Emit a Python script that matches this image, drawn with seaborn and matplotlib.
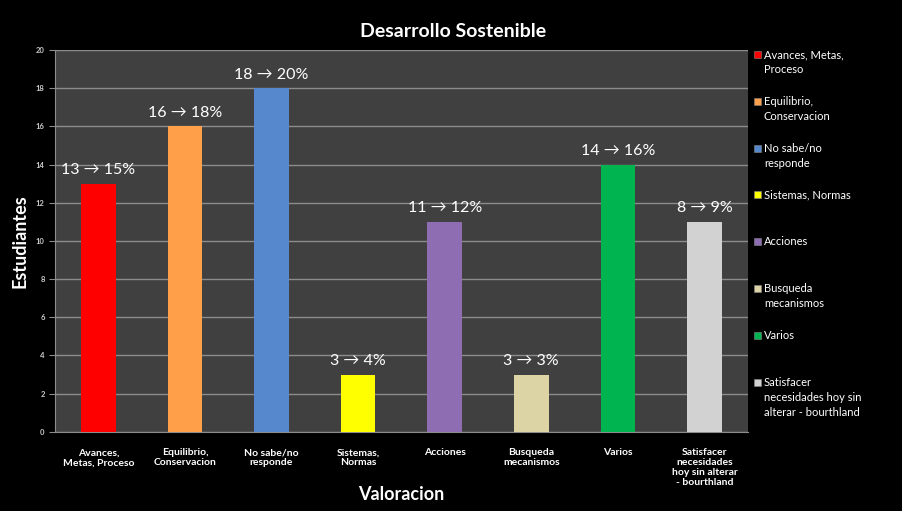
import matplotlib.pyplot as plt
import matplotlib.patches as mpatches
import pandas as pd
import seaborn as sns

# Data
categorias = [
    "Avances,\nMetas, Proceso",
    "Equilibrio,\nConservacion",
    "No sabe/no\nresponde",
    "Sistemas,\nNormas",
    "Acciones",
    "Busqueda\nmecanismos",
    "Varios",
    "Satisfacer\nnecesidades\nhoy sin alterar\n- bourthland",
]
leyenda = [
    "Avances, Metas,\nProceso",
    "Equilibrio,\nConservacion",
    "No sabe/no\nresponde",
    "Sistemas, Normas",
    "Acciones",
    "Busqueda\nmecanismos",
    "Varios",
    "Satisfacer\nnecesidades hoy sin\nalterar - bourthland",
]
estudiantes = [13, 16, 18, 3, 11, 3, 14, 11]
etiqueta_n = [13, 16, 18, 3, 11, 3, 14, 8]
porcentaje = [15, 18, 20, 4, 12, 3, 16, 9]
colores = ["#ff0000", "#ff9f4a", "#5588cc", "#ffff00",
           "#8f6db3", "#ddd4a6", "#00b550", "#d2d2d2"]

df = pd.DataFrame({"Valoracion": categorias, "Estudiantes": estudiantes})

sns.set_style("dark")
plt.rcParams["font.family"] = ["Lato", "DejaVu Sans"]

fig = plt.figure(figsize=(9.03, 5.11), dpi=100, facecolor="black")
ax = fig.add_axes([0.061, 0.155, 0.767, 0.747])
ax.set_facecolor("#404040")

sns.barplot(data=df, x="Valoracion", y="Estudiantes", hue="Valoracion",
            palette=colores, legend=False, width=0.4, ax=ax,
            edgecolor="none", saturation=1, zorder=3)

ax.set_ylim(0, 20)
ax.set_yticks(range(0, 21, 2))
ax.set_xlim(-0.5, len(categorias) - 0.5)
ax.yaxis.grid(True, color="#8c8c8c", linewidth=1.0, zorder=0)
ax.xaxis.grid(False)
for s in ["top", "right"]:
    ax.spines[s].set_visible(False)
for s in ["left", "bottom"]:
    ax.spines[s].set_visible(True)
    ax.spines[s].set_color("#8c8c8c")
ax.tick_params(axis="y", colors="#cccccc", labelsize=5.5, length=4,
               color="#8c8c8c", direction="out", left=True)
ax.tick_params(axis="x", colors="white", labelsize=7.5, length=0, pad=12)
for t in ax.get_xticklabels():
    t.set_fontweight("bold")
    t.set_linespacing(1.1)
for t in ax.get_yticklabels():
    t.set_fontweight("bold")

# value labels above bars
for i, (h, n, p) in enumerate(zip(estudiantes, etiqueta_n, porcentaje)):
    ax.text(i, h + 0.35, f"{n} \u2192 {p}%", ha="center", va="bottom",
            color="white", fontsize=11.5, zorder=4)

ax.set_xlabel("Valoracion", color="white", fontsize=13, fontweight="bold")
ax.xaxis.set_label_coords(0.5, -0.165)
ax.xaxis.label.set_va("center")
ax.set_ylabel("Estudiantes", color="white", fontsize=13, fontweight="bold")
ax.yaxis.set_label_coords(-0.05, 0.5)
ax.yaxis.label.set_va("center")
fig.suptitle("Desarrollo Sostenible", color="white", fontsize=14,
             fontweight="bold", x=0.502, y=0.955)

# legend at right, one entry per category
for i, (lab, c) in enumerate(zip(leyenda, colores)):
    ytop = 1 - (49 + i * 46.8) / 511
    fig.patches.append(mpatches.Rectangle(
        (754 / 903, ytop - 9 / 511), 7 / 903, 7 / 511,
        transform=fig.transFigure, facecolor=c, edgecolor="#888888",
        linewidth=0.4))
    fig.text(764 / 903, ytop, lab, color="white", fontsize=8, va="top",
             ha="left", linespacing=1.45)

fig.savefig("out.png", dpi=100, facecolor="black")
